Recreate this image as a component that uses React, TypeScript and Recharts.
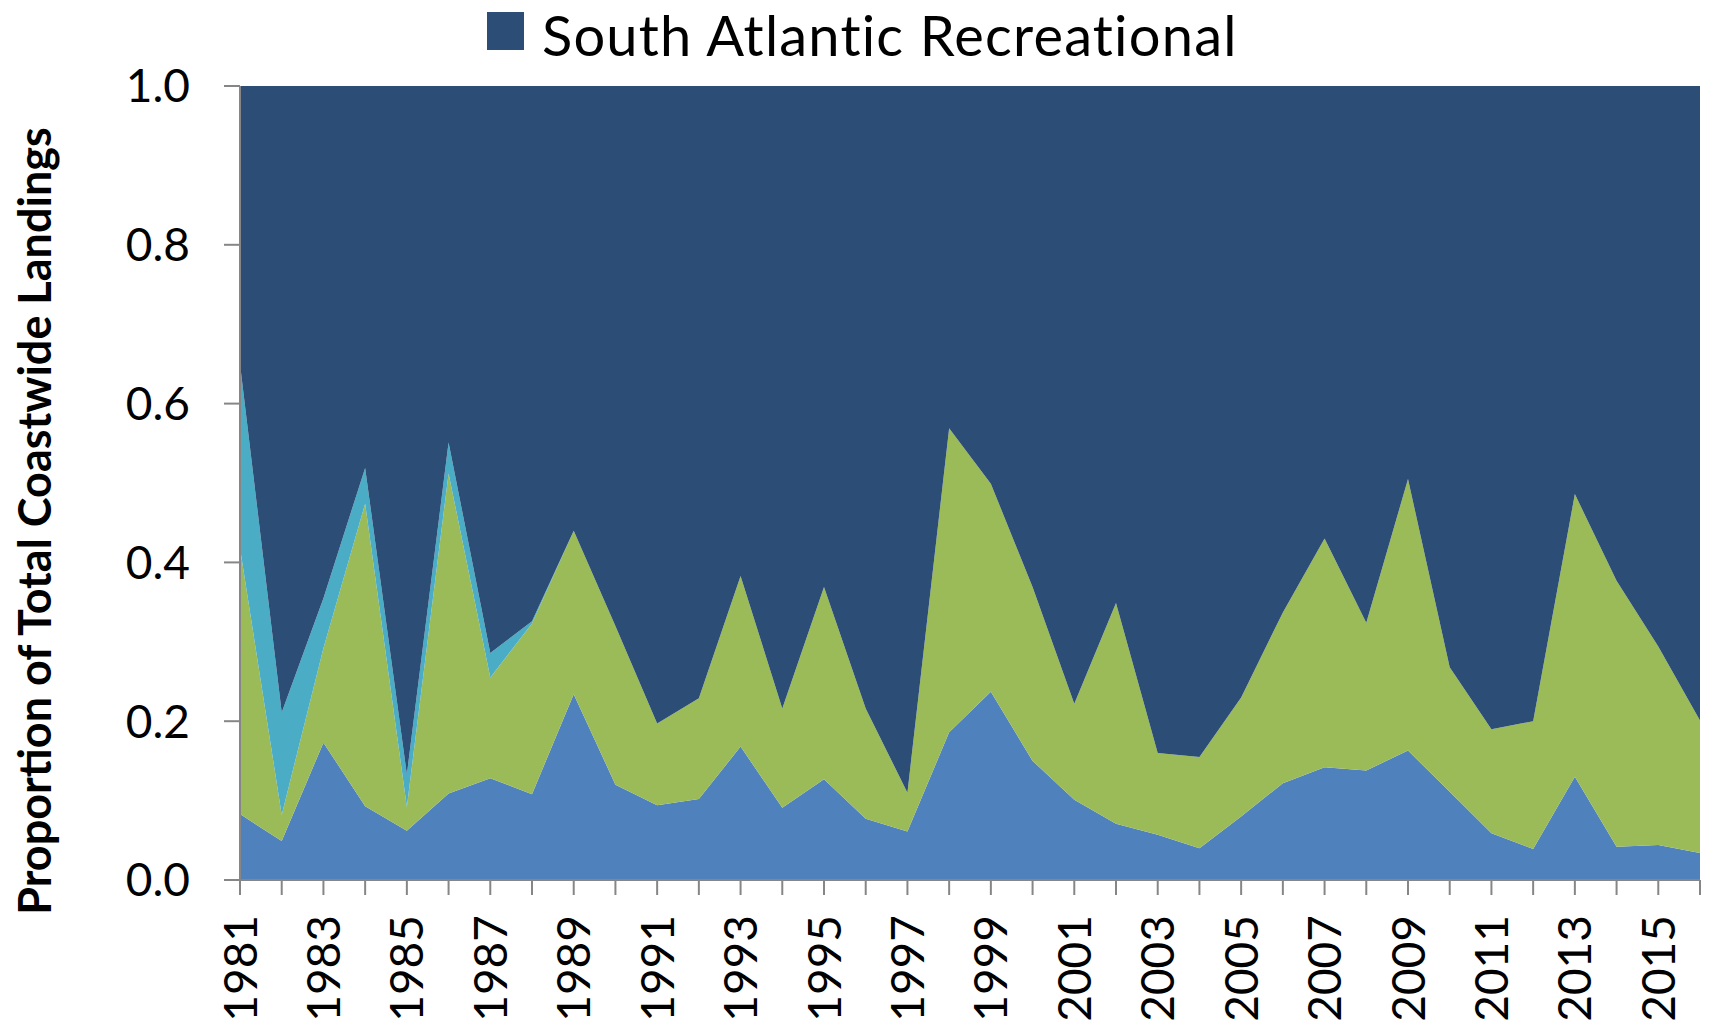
import { AreaChart, Area, XAxis, YAxis } from "recharts";

const YEARS = [
  1981, 1982, 1983, 1984, 1985, 1986, 1987, 1988, 1989, 1990, 1991, 1992,
  1993, 1994, 1995, 1996, 1997, 1998, 1999, 2000, 2001, 2002, 2003, 2004,
  2005, 2006, 2007, 2008, 2009, 2010, 2011, 2012, 2013, 2014, 2015, 2016,
];

// bottom layer (medium blue)
const GULF_COMMERCIAL = [
  0.083, 0.049, 0.173, 0.093, 0.062, 0.109, 0.128, 0.108, 0.234, 0.12, 0.094,
  0.102, 0.168, 0.091, 0.127, 0.077, 0.061, 0.186, 0.237, 0.15, 0.101, 0.071,
  0.057, 0.04, 0.08, 0.122, 0.142, 0.138, 0.163, 0.111, 0.059, 0.039, 0.13,
  0.042, 0.044, 0.034,
];

// green layer
const GULF_RECREATIONAL = [
  0.335, 0.033, 0.119, 0.381, 0.03, 0.403, 0.127, 0.215, 0.206, 0.2, 0.103,
  0.127, 0.215, 0.125, 0.242, 0.139, 0.049, 0.383, 0.262, 0.219, 0.121, 0.278,
  0.103, 0.115, 0.15, 0.215, 0.288, 0.186, 0.342, 0.157, 0.131, 0.161, 0.356,
  0.335, 0.25, 0.167,
];

// light blue layer, only early years
const SA_COMMERCIAL = [
  0.232, 0.129, 0.063, 0.045, 0.041, 0.039, 0.031, 0.003, 0, 0, 0, 0, 0, 0, 0,
  0, 0, 0, 0, 0, 0, 0, 0, 0, 0, 0, 0, 0, 0, 0, 0, 0, 0, 0, 0, 0,
];

// top layer (navy)
const SA_RECREATIONAL = [
  0.35, 0.789, 0.645, 0.481, 0.867, 0.449, 0.714, 0.674, 0.56, 0.68, 0.803,
  0.771, 0.617, 0.784, 0.631, 0.784, 0.89, 0.431, 0.501, 0.631, 0.778, 0.651,
  0.84, 0.845, 0.77, 0.663, 0.57, 0.676, 0.495, 0.732, 0.81, 0.8, 0.514,
  0.623, 0.706, 0.799,
];

const Y_TICKS = [0, 0.2, 0.4, 0.6, 0.8, 1.0];

const data = YEARS.map((year, i) => ({
  year,
  gulfCom: GULF_COMMERCIAL[i],
  gulfRec: GULF_RECREATIONAL[i],
  saCom: SA_COMMERCIAL[i],
  saRec: SA_RECREATIONAL[i],
}));

const FONT = "Lato, 'Open Sans', sans-serif";
const AXIS_GRAY = "#868686";

const XTick = ({ x, y, payload, index }: any) =>
  index % 2 === 0 ? (
    <text
      x={x}
      y={y}
      transform={`rotate(-90 ${x} ${y})`}
      textAnchor="end"
      dy="0.36em"
      fontFamily={FONT}
      fontSize={46}
      fill="#000"
    >
      {payload.value}
    </text>
  ) : (
    <g />
  );

const YTitle = () => (
  <text
    x={27}
    y={513}
    transform="rotate(-90 27 513)"
    textAnchor="middle"
    dy="0.36em"
    fontFamily={FONT}
    fontWeight="bold"
    fontSize={45}
    fill="#000"
  >
    Proportion of Total Coastwide Landings
  </text>
);

export default function App() {
  return (
    <div style={{ position: "relative", width: 1695, height: 1013, fontFamily: FONT }}>
      <div
        style={{
          position: "absolute",
          left: 479,
          top: 4,
          width: 37,
          height: 38,
          background: "#2C4D75",
        }}
      />
      <div
        style={{
          position: "absolute",
          left: 534,
          top: -7,
          fontSize: 56,
          letterSpacing: 1.2,
          lineHeight: "normal",
          color: "#000",
          whiteSpace: "nowrap",
        }}
      >
        South Atlantic Recreational
      </div>
      <AreaChart
        width={1695}
        height={1013}
        data={data}
        margin={{ top: 78, right: 3, bottom: 0, left: 0 }}
      >
        <XAxis
          dataKey="year"
          interval={0}
          height={141}
          tick={<XTick />}
          tickSize={15}
          tickMargin={20}
          axisLine={{ stroke: AXIS_GRAY, strokeWidth: 2 }}
          tickLine={{ stroke: AXIS_GRAY, strokeWidth: 2 }}
        />
        <YAxis
          width={232}
          domain={[0, 1]}
          ticks={Y_TICKS}
          allowDataOverflow
          tickFormatter={(v: number) => v.toFixed(1)}
          tickSize={16}
          tickMargin={34}
          tick={{ fontFamily: FONT, fontSize: 46, fill: "#000" }}
          axisLine={{ stroke: AXIS_GRAY, strokeWidth: 2 }}
          tickLine={{ stroke: AXIS_GRAY, strokeWidth: 2 }}
          label={<YTitle />}
        />
        <Area
          type="linear"
          dataKey="gulfCom"
          name="Gulf Commercial"
          stackId="1"
          stroke="none"
          fill="#4F81BD"
          fillOpacity={1}
          isAnimationActive={false}
        />
        <Area
          type="linear"
          dataKey="gulfRec"
          name="Gulf Recreational"
          stackId="1"
          stroke="none"
          fill="#9BBB59"
          fillOpacity={1}
          isAnimationActive={false}
        />
        <Area
          type="linear"
          dataKey="saCom"
          name="South Atlantic Commercial"
          stackId="1"
          stroke="none"
          fill="#4BACC6"
          fillOpacity={1}
          isAnimationActive={false}
        />
        <Area
          type="linear"
          dataKey="saRec"
          name="South Atlantic Recreational"
          stackId="1"
          stroke="none"
          fill="#2C4D75"
          fillOpacity={1}
          isAnimationActive={false}
        />
      </AreaChart>
    </div>
  );
}
